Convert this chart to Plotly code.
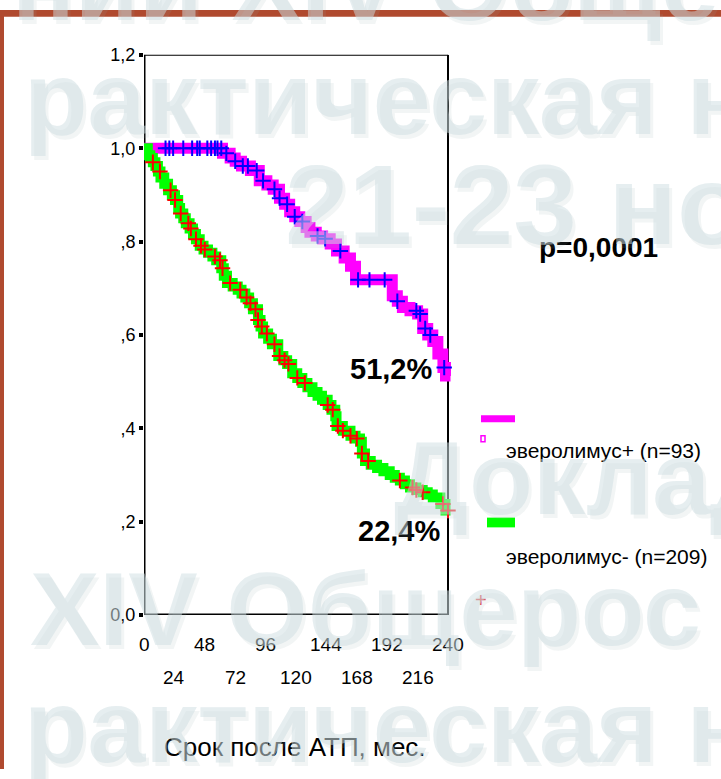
import bisect
import plotly.graph_objects as go

# Kaplan-Meier survival, months after transplantation
plus_t = [0, 62, 68, 72, 77, 84, 91, 97, 102, 107, 111, 115, 119, 123, 128, 131, 136, 141,
          147, 152, 158, 163, 167, 196, 200, 204, 210, 216, 220, 224, 228, 232, 236, 238, 242]
plus_s = [1.0, 0.989, 0.979, 0.972, 0.962, 0.952, 0.930, 0.921, 0.912, 0.893, 0.880, 0.864,
          0.853, 0.843, 0.830, 0.820, 0.812, 0.806, 0.795, 0.780, 0.765, 0.747, 0.718, 0.684,
          0.672, 0.659, 0.652, 0.645, 0.614, 0.600, 0.586, 0.559, 0.530, 0.512, 0.512]
plus_cens = [17, 20, 23, 31, 38, 42, 44, 50, 53, 56, 58, 61, 65, 72, 78, 82, 89, 94, 103, 107,
             113, 119, 125, 137, 143, 155, 169, 178, 190, 200, 215, 218, 222, 226, 237]

minus_t = [0, 3, 5, 7, 9, 11, 13, 16, 19, 22, 24.5, 27, 28.5, 31, 33, 36, 38.7, 41, 44, 47,
           50.5, 54, 57, 61, 63, 65.5, 70, 74, 77, 80, 83, 86, 90, 92, 94, 98, 101, 106, 110,
           113, 117, 121, 125, 129, 133, 137, 140.5, 145, 148, 151, 152, 157, 163, 167, 170.5,
           172, 174.5, 179, 184, 189, 194, 198, 202, 206, 210, 215, 220, 224, 228, 234, 238, 242]
minus_s = [1.0, 0.985, 0.979, 0.970, 0.962, 0.950, 0.937, 0.924, 0.910, 0.899, 0.889, 0.872,
           0.860, 0.850, 0.839, 0.828, 0.816, 0.805, 0.791, 0.783, 0.776, 0.768, 0.760, 0.743,
           0.727, 0.711, 0.704, 0.697, 0.689, 0.680, 0.668, 0.655, 0.632, 0.618, 0.603, 0.592,
           0.580, 0.555, 0.546, 0.538, 0.518, 0.508, 0.497, 0.488, 0.478, 0.470, 0.461, 0.450,
           0.440, 0.426, 0.405, 0.395, 0.384, 0.378, 0.371, 0.346, 0.330, 0.322, 0.315, 0.308,
           0.300, 0.294, 0.288, 0.280, 0.273, 0.268, 0.263, 0.258, 0.252, 0.238, 0.224, 0.224]
minus_cens = [7, 12.6, 21, 24.5, 29, 35, 37, 41, 45, 48, 56, 60, 62, 68, 76, 81, 84, 88, 90,
              93, 97, 103, 107, 111, 114, 121, 127, 145, 149, 153, 157, 163, 168, 172, 177,
              202, 212, 215, 220, 236, 240]

x_ticks_row1 = [0, 48, 96, 144, 192, 240]
x_ticks_row2 = [24, 72, 120, 168, 216]
y_ticks = [0, 0.2, 0.4, 0.6, 0.8, 1.0, 1.2]
y_ticktext = ["0,0", ",2", ",4", ",6", ",8", "1,0", "1,2"]

label_plus = "эверолимус+ (n=93)"
label_minus = "эверолимус- (n=209)"
p_text = "p=0,0001"
x_title = "Срок после АТП, мес."

W, H = 721, 779
FONT = "Liberation Sans, Arial, sans-serif"


def px(x):
    return x / W


def py(y):
    return 1 - y / H


def surv_at(times, surv, t):
    i = bisect.bisect_right(times, t) - 1
    return surv[max(i, 0)]


def pct(v):
    return f"{v * 100:.1f}%".replace(".", ",")


def text_ann(x, y, text, size, xanchor="center", color="black", xref="paper"):
    return dict(x=x, y=y, xref=xref, yref="paper", text=text, showarrow=False,
                xanchor=xanchor, yanchor="middle",
                font=dict(family=FONT, size=size, color=color))


fig = go.Figure()

fig.add_trace(go.Scatter(x=plus_t, y=plus_s, mode="lines", line_shape="hv",
                         line=dict(color="#FF00FF", width=11), showlegend=False))
fig.add_trace(go.Scatter(x=minus_t, y=minus_s, mode="lines", line_shape="hv",
                         line=dict(color="#00FF00", width=10), showlegend=False))
fig.add_trace(go.Scatter(x=plus_cens, y=[surv_at(plus_t, plus_s, c) for c in plus_cens],
                         mode="markers", cliponaxis=False,
                         marker=dict(symbol="cross-thin", size=11,
                                     line=dict(color="#0000FF", width=2)),
                         showlegend=False))
fig.add_trace(go.Scatter(x=minus_cens, y=[surv_at(minus_t, minus_s, c) for c in minus_cens],
                         mode="markers", cliponaxis=False,
                         marker=dict(symbol="cross-thin", size=11,
                                     line=dict(color="#FF0000", width=2)),
                         showlegend=False))
# small dashes under the time axis
all_x = sorted(x_ticks_row1 + x_ticks_row2)
fig.add_trace(go.Scatter(x=all_x, y=[-0.009] * len(all_x), mode="markers", cliponaxis=False,
                         marker=dict(symbol="line-ew", size=6,
                                     line=dict(color="#444444", width=1.5)),
                         showlegend=False))

shapes = []
# plot frame
for x0, y0, x1, y1, w in [(0, 0, 0, 1.2, 3), (0, 1.2, 240, 1.2, 2),
                          (240, 0, 240, 1.2, 2), (0, 0, 240, 0, 3)]:
    shapes.append(dict(type="line", xref="x", yref="y", x0=x0, y0=y0, x1=x1, y1=y1,
                       line=dict(color="black", width=w), layer="below"))
# slide border
shapes.append(dict(type="rect", xref="paper", yref="paper", x0=0, x1=px(4), y0=0, y1=1,
                   fillcolor="#B04A2F", line_width=0, layer="above"))
shapes.append(dict(type="rect", xref="paper", yref="paper", x0=0, x1=1, y0=py(7), y1=1,
                   fillcolor="#B04A2F", line_width=0, layer="above"))
# legend swatches
shapes.append(dict(type="rect", xref="paper", yref="paper", x0=px(481), x1=px(515),
                   y0=py(423), y1=py(416), fillcolor="#FF00FF", line_width=0))
shapes.append(dict(type="rect", xref="paper", yref="paper", x0=px(481), x1=px(485),
                   y0=py(443), y1=py(437), fillcolor="white",
                   line=dict(color="#FF00FF", width=1.5)))
shapes.append(dict(type="rect", xref="paper", yref="paper", x0=px(487), x1=px(515),
                   y0=py(531), y1=py(521), fillcolor="#00FF00", line_width=0))

ann = []
for v in x_ticks_row1:
    ann.append(text_ann(v, py(651), str(v), 19, xref="x"))
for v in x_ticks_row2:
    ann.append(text_ann(v, py(685), str(v), 19, xref="x"))
ann.append(text_ann(px(295), py(756), x_title, 26))
ann.append(text_ann(px(598), py(244), "<b>" + p_text + "</b>", 28))
ann.append(text_ann(px(391), py(368), "<b>" + pct(plus_s[-1]) + "</b>", 29))
ann.append(text_ann(px(399), py(535), "<b>" + pct(minus_s[-1]) + "</b>", 29))
ann.append(text_ann(px(504), py(452), label_plus, 21, xanchor="left"))
ann.append(text_ann(px(504), py(561), label_minus, 21, xanchor="left"))
ann.append(text_ann(px(481), py(606), "+", 20, color="#E84848"))

# translucent conference watermark over the slide
wm_lines = [("ний XIV Общерос", 10, -27, 104), ("рактическая н", 22, 90, 104),
            ("21-23 но", 283, 200, 114), ("Доклад", 392, 480, 104),
            ("XIV Общерос", 28, 615, 104), ("рактическая н", 22, 735, 104)]
for text, x0, yc, size in wm_lines:
    ann.append(dict(x=px(x0 + 3), y=py(yc + 4), xref="paper", yref="paper",
                    text="<b>" + text + "</b>", xanchor="left", yanchor="middle",
                    showarrow=False,
                    font=dict(family=FONT, size=size, color="rgba(150,170,175,0.12)")))
    ann.append(dict(x=px(x0), y=py(yc), xref="paper", yref="paper",
                    text="<b>" + text + "</b>", xanchor="left", yanchor="middle",
                    showarrow=False,
                    font=dict(family=FONT, size=size, color="rgba(205,222,226,0.5)")))

fig.update_layout(
    width=W, height=H, margin=dict(l=0, r=0, t=0, b=0),
    paper_bgcolor="white", plot_bgcolor="rgba(0,0,0,0)",
    showlegend=False, shapes=shapes, annotations=ann,
    xaxis=dict(domain=[px(144), px(144 + 250 * 304 / 240)], range=[0, 250],
               showgrid=False, zeroline=False, showline=False, showticklabels=False,
               ticks=""),
    yaxis=dict(domain=[py(621), py(46)], range=[0, 1.2], tickvals=y_ticks,
               ticktext=y_ticktext, ticks="outside", ticklen=4, tickwidth=4,
               tickcolor="black", showgrid=False, zeroline=False, showline=False,
               tickfont=dict(family=FONT, size=18, color="black")),
)

fig.write_html("out.html")
